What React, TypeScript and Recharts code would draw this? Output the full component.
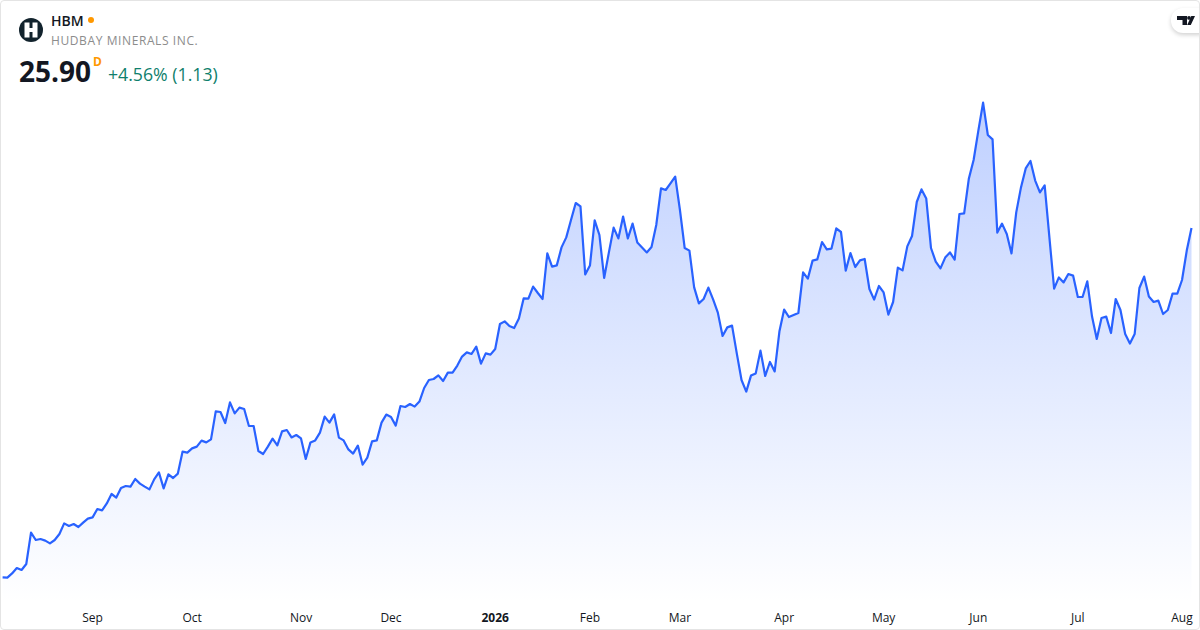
import React from 'react';
import { AreaChart, Area, XAxis, YAxis } from 'recharts';

// daily closes
const closes = [
  8.43, 8.42, 8.63, 8.9, 8.8, 9.1, 10.67, 10.3, 10.35, 10.27, 10.13, 10.3, 10.6, 11.13, 11.0, 11.1,
  10.95, 11.17, 11.37, 11.43, 11.85, 11.78, 12.13, 12.6, 12.42, 12.9, 13.0, 12.97, 13.35, 13.12, 12.97, 12.83,
  13.33, 13.68, 12.88, 13.58, 13.4, 13.62, 14.72, 14.67, 14.88, 14.97, 15.27, 15.18, 15.33, 16.73, 16.7, 16.15,
  17.18, 16.63, 16.92, 16.85, 16.0, 16.0, 14.75, 14.6, 14.97, 15.37, 15.03, 15.73, 15.8, 15.43, 15.55, 15.38,
  14.35, 15.18, 15.28, 15.67, 16.47, 16.17, 16.58, 15.42, 15.28, 14.83, 14.62, 15.02, 14.07, 14.42, 15.23, 15.28,
  16.17, 16.57, 16.45, 16.02, 17.0, 16.95, 17.1, 16.97, 17.22, 17.9, 18.3, 18.35, 18.53, 18.25, 18.67, 18.67,
  19.02, 19.47, 19.68, 19.6, 19.97, 19.12, 19.63, 19.57, 19.85, 21.1, 21.23, 21.0, 20.9, 21.37, 22.38, 22.37,
  22.97, 22.65, 22.35, 24.63, 23.97, 24.03, 24.93, 25.43, 26.3, 27.15, 26.98, 23.58, 24.02, 26.28, 25.55, 23.4,
  24.68, 25.92, 25.38, 26.47, 25.38, 26.12, 25.17, 24.92, 24.68, 24.95, 26.05, 27.88, 27.8, 28.13, 28.47, 26.8,
  24.9, 24.77, 22.93, 22.13, 22.35, 22.92, 22.33, 21.67, 20.5, 20.93, 21.02, 19.63, 18.3, 17.72, 18.52, 18.63,
  19.77, 18.5, 19.2, 18.73, 20.72, 21.82, 21.45, 21.55, 21.65, 23.68, 23.37, 24.27, 24.33, 25.2, 24.83, 24.87,
  25.88, 25.7, 23.77, 24.65, 23.95, 24.28, 24.35, 22.85, 22.32, 23.0, 22.68, 21.57, 22.2, 23.92, 23.78, 24.98,
  25.5, 27.2, 27.83, 27.37, 24.9, 24.22, 23.88, 24.42, 24.68, 24.32, 26.6, 26.63, 28.38, 29.3, 30.77, 32.17,
  30.55, 30.33, 25.67, 26.12, 25.6, 24.63, 26.68, 27.93, 28.88, 29.25, 28.27, 27.68, 28.03, 25.43, 22.87, 23.43,
  23.18, 23.6, 23.52, 22.45, 22.45, 23.23, 21.47, 20.35, 21.4, 21.47, 20.65, 22.35, 21.8, 20.6, 20.12, 20.6,
  22.9, 23.47, 22.47, 22.2, 22.27, 21.6, 21.8, 22.62, 22.62, 23.3, 24.77, 25.9,
];

const tickIndexes = [19, 40, 63, 82, 104, 124, 143, 165, 186, 206, 227, 249];
const tickLabels = ['Sep', 'Oct', 'Nov', 'Dec', '2026', 'Feb', 'Mar', 'Apr', 'May', 'Jun', 'Jul', 'Aug'];

const FONT = '"Open Sans", sans-serif';

const chartData = closes.map((close, i) => ({ i, close }));

const MonthTick = ({ x, y, payload }: any) => {
  const label = tickLabels[tickIndexes.indexOf(payload.value)];
  return (
    <text
      x={x}
      y={y}
      dy={11}
      textAnchor="middle"
      fontFamily={FONT}
      fontSize={12}
      fontWeight={label === '2026' ? 700 : 400}
      fill="#131722"
    >
      {label}
    </text>
  );
};

const App = () => (
  <div
    style={{
      position: 'absolute',
      left: 0,
      top: 0,
      width: 1200,
      height: 630,
      overflow: 'hidden',
      background: '#fff',
      fontFamily: FONT,
    }}
  >
    <AreaChart
      width={1200}
      height={630}
      data={chartData}
      margin={{ top: 0, right: 8.5, left: 2.6, bottom: 0 }}
    >
      <defs>
        <linearGradient id="priceFill" x1="0" y1="0" x2="0" y2="1">
          <stop offset="0%" stopColor="#2962ff" stopOpacity={0.3} />
          <stop offset="100%" stopColor="#2962ff" stopOpacity={0} />
        </linearGradient>
      </defs>
      <XAxis
        dataKey="i"
        type="number"
        domain={[0, 251]}
        ticks={tickIndexes}
        interval={0}
        height={27}
        axisLine={false}
        tickLine={false}
        tick={<MonthTick />}
      />
      <YAxis hide domain={[7.15, 37.3]} />
      <Area
        type="linear"
        dataKey="close"
        stroke="#2962ff"
        strokeWidth={2.2}
        strokeLinejoin="round"
        fill="url(#priceFill)"
        fillOpacity={1}
        dot={false}
        activeDot={false}
        isAnimationActive={false}
      />
    </AreaChart>

    {/* header */}
    <svg width={26} height={26} style={{ position: 'absolute', left: 18, top: 17 }}>
      <circle cx={13} cy={13} r={12} fill="#12232d" />
      <path d="M6.5 5.5h5v5.4h3V5.5h5v15h-5v-5.4h-3v5.4h-5z" fill="#fff" />
    </svg>
    <div style={{ position: 'absolute', left: 51, top: 11, fontSize: 14, lineHeight: '20px', fontWeight: 600, color: '#131722' }}>
      HBM
    </div>
    <div style={{ position: 'absolute', left: 88, top: 17, width: 6, height: 6, borderRadius: 3, background: '#ff9800' }} />
    <div style={{ position: 'absolute', left: 51, top: 33, fontSize: 12, lineHeight: '16px', letterSpacing: 0.6, color: '#8c8c8c' }}>
      HUDBAY MINERALS INC.
    </div>
    <div style={{ position: 'absolute', left: 19, top: 52, fontSize: 28, lineHeight: '38px', fontWeight: 700, color: '#131722' }}>
      25.90
    </div>
    <div style={{ position: 'absolute', left: 93, top: 54, fontSize: 12, lineHeight: '15px', fontWeight: 700, color: '#ff9800' }}>
      D
    </div>
    <div style={{ position: 'absolute', left: 108, top: 62, fontSize: 17.7, lineHeight: '24px', color: '#0f7f6c' }}>
      +4.56% (1.13)
    </div>

    {/* logo pill */}
    <div
      style={{
        position: 'absolute',
        left: 1171,
        top: 8,
        width: 40,
        height: 25,
        borderRadius: 12,
        background: '#fff',
        boxShadow: '0 2px 4px rgba(0,0,0,0.18)',
      }}
    />
    <svg width={18} height={9} style={{ position: 'absolute', left: 1177, top: 16 }}>
      <path d="M0 0h10v9H5.5V4H0z M14.3 0H18L13.8 9H10.2z" fill="#131722" />
      <circle cx={12} cy={1.9} r={1.9} fill="#131722" />
    </svg>

    {/* frame */}
    <div
      style={{
        position: 'absolute',
        left: 0,
        top: 0,
        width: 1200,
        height: 630,
        boxSizing: 'border-box',
        border: '1px solid #e4e4e4',
        borderRadius: 4,
        pointerEvents: 'none',
      }}
    />
  </div>
);

export default App;
